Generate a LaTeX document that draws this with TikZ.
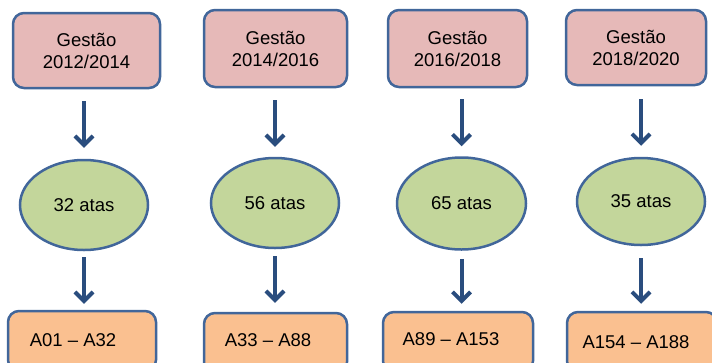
\documentclass[tikz,border=0pt]{standalone}
\usepackage{fontspec}
\setmainfont{Liberation Sans}
\usetikzlibrary{arrows.meta,shapes.geometric}
\definecolor{pinkfill}{HTML}{E6B9B8}
\definecolor{greenfill}{HTML}{C3D69B}
\definecolor{orangefill}{HTML}{FAC090}
\definecolor{edgeblue}{HTML}{41669A}
\definecolor{arrowblue}{HTML}{2A4D7E}
\tikzset{
  txt/.style={font=\fontsize{18.5}{22}\selectfont, text=black},
  topbox/.style={draw=edgeblue, line width=2.5pt, fill=pinkfill, rounded corners=11pt, align=center, txt, inner sep=0pt},
  ell/.style={ellipse, draw=edgeblue, line width=2.5pt, fill=greenfill, txt, inner sep=0pt},
  botbox/.style={draw=edgeblue, line width=2.5pt, fill=orangefill, rounded corners=11pt, inner sep=0pt},
  arr/.style={draw=arrowblue, line width=4pt, -{Straight Barb[length=9pt,width=18pt]}},
}
\begin{document}
\begin{tikzpicture}[x=1pt,y=-1pt]
\useasboundingbox (0,0) rectangle (712,362);
\clip (0,0) rectangle (712,362);
% top boxes
\node[topbox, minimum width=147pt, minimum height=75pt] (t1) at (86.5,50.5) {Gestão\\2012/2014};
\node[topbox, minimum width=143pt, minimum height=77pt] (t2) at (275.5,48.5) {Gestão\\2014/2016};
\node[topbox, minimum width=139pt, minimum height=77pt] (t3) at (457.5,48.5) {Gestão\\2016/2018};
\node[topbox, minimum width=140pt, minimum height=75pt] (t4) at (636,47.5) {Gestão\\2018/2020};
% ellipses
\node[ell, minimum width=128pt, minimum height=90pt] (e1) at (84,205) {32 atas};
\node[ell, minimum width=128pt, minimum height=90pt] (e2) at (275,203) {56 atas};
\node[ell, minimum width=129pt, minimum height=92pt] (e3) at (461.5,203.5) {65 atas};
\node[ell, minimum width=128pt, minimum height=87pt] (e4) at (641,201.5) {35 atas};
% bottom boxes
\node[botbox, minimum width=148pt, minimum height=60pt] (b1) at (82,341) {};
\node[botbox, minimum width=143pt, minimum height=60pt] (b2) at (275.5,343) {};
\node[botbox, minimum width=150pt, minimum height=60pt] (b3) at (458,342) {};
\node[botbox, minimum width=150pt, minimum height=60pt] (b4) at (642,342) {};
% bottom labels
\node[txt] (l1) at (73,340) {A01 – A32};
\node[txt] (l2) at (268,340) {A33 – A88};
\node[txt] (l3) at (451,339) {A89 – A153};
\node[txt] (l4) at (636,342) {A154 – A188};
% arrows
\draw[arr, shorten <=12pt, shorten >=11pt] (e1.north |- t1.south) -- (e1.north);
\draw[arr, shorten <=12pt, shorten >=10pt] (e2.north |- t2.south) -- (e2.north);
\draw[arr, shorten <=11pt, shorten >=10pt] (e3.north |- t3.south) -- (e3.north);
\draw[arr, shorten <=13pt, shorten >=11pt] (e4.north |- t4.south) -- (e4.north);
\draw[arr, shorten <=6pt, shorten >=6pt] (e1.south) -- (e1.south |- b1.north);
\draw[arr, shorten <=7pt, shorten >=9pt] (e2.south) -- (e2.south |- b2.north);
\draw[arr, shorten <=8pt, shorten >=7pt] (e3.south) -- (e3.south |- b3.north);
\draw[arr, shorten <=12pt, shorten >=7pt] (e4.south) -- (e4.south |- b4.north);
\end{tikzpicture}
\end{document}
